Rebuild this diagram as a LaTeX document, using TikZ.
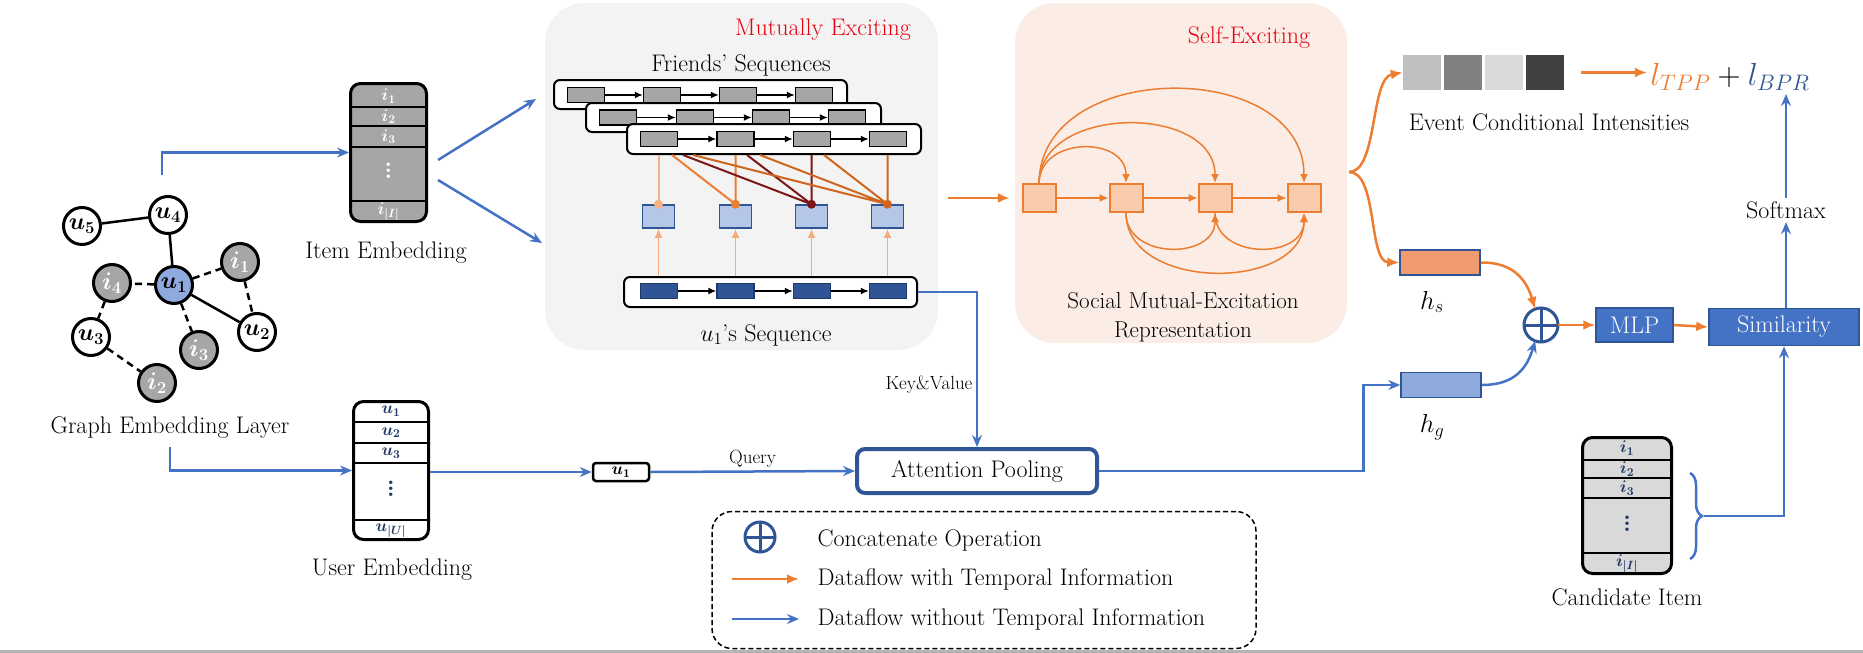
\RequirePackage{fix-cm}
\documentclass[tikz,border=0pt]{standalone}
\usepackage{bm}
\usetikzlibrary{arrows.meta,positioning,decorations.pathreplacing}
\definecolor{flowblue}{HTML}{4472C4}
\definecolor{darkblue}{HTML}{2F5597}
\definecolor{navy}{HTML}{1F3864}
\definecolor{floworange}{HTML}{ED7D31}
\definecolor{lightorange}{HTML}{F4B183}
\definecolor{midorange}{HTML}{D0651E}
\definecolor{darkred}{HTML}{7B1717}
\definecolor{mutgrey}{HTML}{F3F3F3}
\definecolor{selfbg}{HTML}{FBEDE5}
\definecolor{itemgrey}{HTML}{A6A6A6}
\definecolor{candgrey}{HTML}{D9D9D9}
\definecolor{sqblue}{HTML}{B4C7E7}
\definecolor{hgblue}{HTML}{8FAADC}
\definecolor{hsorange}{HTML}{F19C6E}
\definecolor{sqorange}{HTML}{F8CBAD}
\definecolor{excred}{HTML}{E60012}
\definecolor{barcolor}{HTML}{B5B5B5}
\newcommand{\tallvdots}{\vbox{\baselineskip6pt\lineskiplimit0pt\hbox{\textbf{.}}\hbox{\textbf{.}}\hbox{\textbf{.}}}}
\begin{document}
\begin{tikzpicture}[x=1pt,y=-1pt,
every node/.style={font=\fontsize{24}{29}\selectfont},
tinylab/.style={font=\fontsize{19}{23}\selectfont},
celllab/.style={font=\fontsize{17}{20}\selectfont,inner sep=0pt},
bflow/.style={draw=flowblue,line width=2.5pt,-{Stealth[length=12pt,width=10pt,inset=4pt]}},
oflow/.style={draw=floworange,line width=2.5pt,-{Latex[length=12pt,width=10pt]}},
thinarrow/.style={-{Latex[length=8pt,width=7pt]},line width=1.2pt},
uparrow/.style={draw=lightorange!90!floworange,line width=1.8pt,-{Latex[length=9pt,width=8pt]}},
selfarc/.style={draw=floworange,line width=1.5pt,-{Latex[length=9pt,width=8pt]}},
gnode/.style={circle,draw,line width=3pt,minimum size=37pt,inner sep=0pt,fill=white},
inode/.style={gnode,fill=itemgrey,text=white},
embbox/.style={draw,line width=3pt,rounded corners=10pt,inner sep=0pt},
seqbox/.style={draw,fill=white,line width=2pt,rounded corners=6pt,minimum height=29pt,inner sep=0pt},
frect/.style={draw,fill=itemgrey,line width=1.5pt,minimum width=37pt,minimum height=15pt,inner sep=0pt},
urect/.style={frect,fill=darkblue,draw=navy},
attsq/.style={draw=darkblue,fill=sqblue,line width=1.5pt,minimum width=32pt,minimum height=23pt,inner sep=0pt},
dotnode/.style={circle,minimum size=9pt,inner sep=0pt},
selfsq/.style={draw=floworange,fill=sqorange,line width=2pt,minimum width=33pt,minimum height=28pt,inner sep=0pt},
intsq/.style={minimum width=38pt,minimum height=35pt,inner sep=0pt},
hbox/.style={draw=darkblue,line width=1.5pt,minimum width=80pt,minimum height=25pt,inner sep=0pt},
catnode/.style={circle,draw=darkblue,line width=3pt,inner sep=0pt,outer sep=0pt},
bluebox/.style={fill=flowblue,draw=darkblue,line width=1.5pt,text=white,inner sep=0pt}]
\useasboundingbox (0,0) rectangle (1863,653);
\node[fill=mutgrey,rounded corners=40pt,minimum width=393pt,minimum height=347pt,inner sep=0pt] (mutbox) at (741.5,176.5) {};
\node[fill=selfbg,rounded corners=40pt,minimum width=332pt,minimum height=340pt,inner sep=0pt] (selfbox) at (1181,173) {};
\fill[barcolor] (0,650) rectangle (1863,653);

\node[gnode] (u5) at (82,226) {$\bm{u_5}$};
\node[gnode] (u4) at (168,215) {$\bm{u_4}$};
\node[gnode,fill=hgblue] (u1) at (174,285) {$\bm{u_1}$};
\node[inode] (i1) at (240,262) {$\bm{i_1}$};
\node[inode] (i4) at (112,283) {$\bm{i_4}$};
\node[gnode] (u3) at (91,337) {$\bm{u_3}$};
\node[inode] (i3) at (199,350) {$\bm{i_3}$};
\node[gnode] (u2) at (257,332) {$\bm{u_2}$};
\node[inode] (i2) at (157,383) {$\bm{i_2}$};
\draw[line width=2.5pt] (u5)--(u4) (u4)--(u1) (u1)--(u2);
\draw[line width=2.5pt,dash pattern=on 7pt off 5pt] (u1)--(i1) (u1)--(i4) (u1)--(i3) (i1)--(u2) (i4)--(u3) (u3)--(i2);
\node (glab) at (170,428) {Graph Embedding Layer};

\node[embbox,fill=itemgrey,minimum width=76pt,minimum height=138pt] (itememb) at (388.5,152.5) {};
\draw[line width=2.5pt] (itememb.west |- 0,107) -- (itememb.east |- 0,107) (itememb.west |- 0,126) -- (itememb.east |- 0,126) (itememb.west |- 0,147) -- (itememb.east |- 0,147) (itememb.west |- 0,201) -- (itememb.east |- 0,201);
\node[celllab,text=white] (it1) at (388.5,96) {$\bm{i_1}$};
\node[celllab,text=white] (it2) at (388.5,116.5) {$\bm{i_2}$};
\node[celllab,text=white] (it3) at (388.5,136.5) {$\bm{i_3}$};
\node[text=white,inner sep=0pt] (itd) at (388.5,171) {\tallvdots};
\node[celllab,text=white] (itn) at (388.5,212) {$\bm{i_{|I|}}$};
\node (itlab) at (386,253) {Item Embedding};

\node[embbox,fill=white,minimum width=75pt,minimum height=138pt] (useremb) at (391,470.5) {};
\draw[line width=2.5pt] (useremb.west |- 0,422) -- (useremb.east |- 0,422) (useremb.west |- 0,443) -- (useremb.east |- 0,443) (useremb.west |- 0,463) -- (useremb.east |- 0,463) (useremb.west |- 0,520) -- (useremb.east |- 0,520);
\node[celllab,text=navy] (us1) at (391,411) {$\bm{u_1}$};
\node[celllab,text=navy] (us2) at (391,432.5) {$\bm{u_2}$};
\node[celllab,text=navy] (us3) at (391,453) {$\bm{u_3}$};
\node[text=navy,inner sep=0pt] (usd) at (391,489) {\tallvdots};
\node[celllab,text=navy] (usn) at (391,531) {$\bm{u_{|U|}}$};
\node (uslab) at (392,570) {User Embedding};

\coordinate (gtop) at (162,175);
\coordinate (gbot) at (170,447);
\draw[bflow] (gtop) |- (itememb.west);
\draw[bflow] (gbot) |- (useremb.west);
\coordinate (ie1) at (438,160);
\coordinate (ie2) at (438,180);
\coordinate (fs1) at (536,99);
\coordinate (fs2) at (542,243);
\draw[bflow] (ie1) -- (fs1);
\draw[bflow] (ie2) -- (fs2);

\node[text=excred] (mtitle) at (823,30) {Mutually Exciting};
\node (flab) at (741,65) {Friends' Sequences};
\node[seqbox,minimum width=293pt] (f1) at (700.5,94.5) {};
\node[frect] (f11) at (586,95) {};
\node[frect] (f12) at (662,95) {};
\node[frect] (f13) at (738,95) {};
\node[frect] (f14) at (814,95) {};
\draw[thinarrow] (f11)--(f12);
\draw[thinarrow] (f12)--(f13);
\draw[thinarrow] (f13)--(f14);
\node[seqbox,minimum width=295pt] (f2) at (733.5,117.5) {};
\node[frect] (f21) at (618,117.5) {};
\node[frect] (f22) at (695,117.5) {};
\node[frect] (f23) at (771,117.5) {};
\node[frect] (f24) at (847,117.5) {};
\draw[thinarrow] (f21)--(f22);
\draw[thinarrow] (f22)--(f23);
\draw[thinarrow] (f23)--(f24);
\node[seqbox,minimum width=294pt,minimum height=30pt] (f3) at (774,139) {};
\node[frect] (f31) at (659,139) {};
\node[frect] (f32) at (735.5,139) {};
\node[frect] (f33) at (812,139) {};
\node[frect] (f34) at (888,139) {};
\draw[thinarrow] (f31)--(f32);
\draw[thinarrow] (f32)--(f33);
\draw[thinarrow] (f33)--(f34);

\node[attsq] (a1) at (658.5,216.5) {};
\node[attsq] (a2) at (735.5,216.5) {};
\node[attsq] (a3) at (811.5,216.5) {};
\node[attsq] (a4) at (887.5,216.5) {};
\coordinate (d1) at (a1.north);
\coordinate (d2) at (a2.north);
\coordinate (d3) at (a3.north);
\coordinate (d4) at (a4.north);
\draw[lightorange,line width=2pt] (f3.south -| d1) -- (d1);
\draw[floworange,line width=2pt] (f3.south -| 672,0) -- (d2) (f3.south -| d2) -- (d2);
\draw[darkred,line width=2pt] (f3.south -| 683,0) -- (d3) (f3.south -| 747,0) -- (d3) (f3.south -| d3) -- (d3);
\draw[midorange,line width=2pt] (f3.south -| 693,0) -- (d4) (f3.south -| 760,0) -- (d4) (f3.south -| 824,0) -- (d4) (f3.south -| d4) -- (d4);
\node[dotnode,fill=lightorange] (p1) at (d1) {};
\node[dotnode,fill=floworange] (p2) at (d2) {};
\node[dotnode,fill=darkred] (p3) at (d3) {};
\node[dotnode,fill=midorange] (p4) at (d4) {};

\node[seqbox,minimum width=293pt,minimum height=30pt] (useq) at (770.5,292) {};
\node[urect] (s1) at (659,291) {};
\node[urect] (s2) at (735.5,291) {};
\node[urect] (s3) at (812,291) {};
\node[urect] (s4) at (888,291) {};
\draw[thinarrow] (s1)--(s2);
\draw[thinarrow] (s2)--(s3);
\draw[thinarrow] (s3)--(s4);
\draw[uparrow] (useq.north -| a1) -- (a1.south);
\draw[uparrow] (useq.north -| a2) -- (a2.south);
\draw[uparrow] (useq.north -| a3) -- (a3.south);
\draw[uparrow] (useq.north -| a4) -- (a4.south);
\node (useqlab) at (766,335) {$u_1$'s Sequence};

\node[text=excred] (stitle) at (1249,38) {Self-Exciting};
\node[selfsq] (e1) at (1039,198) {};
\node[selfsq] (e2) at (1126,198) {};
\node[selfsq] (e3) at (1215,198) {};
\node[selfsq] (e4) at (1304,198) {};
\draw[selfarc] (e1)--(e2);
\draw[selfarc] (e2)--(e3);
\draw[selfarc] (e3)--(e4);
\draw[selfarc] (e1.north) .. controls (1040,136) and (1126,136) .. (e2.north);
\draw[selfarc] (e1.north) .. controls (1040,104) and (1215,104) .. (e3.north);
\draw[selfarc] (e1.north) .. controls (1040,58) and (1304,58) .. (e4.north);
\draw[selfarc] (e2.south) .. controls (1126,260) and (1215,260) .. (e3.south);
\draw[selfarc] (e3.south) .. controls (1215,260) and (1304,260) .. (e4.south);
\draw[selfarc] (e2.south) .. controls (1126,292) and (1304,292) .. (e4.south);
\node[align=center,font=\fontsize{23}{29}\selectfont] (selflab) at (1183,317) {Social Mutual-Excitation\\Representation};
\draw[oflow] ([xshift=10pt]mutbox.east |- e1) -- ([xshift=-5pt]selfbox.west |- e1);

\draw[bflow] (useq.east) -| node[pos=0.8,left,tinylab] (kv) {Key\&Value} (977,447);
\node[draw=darkblue,line width=4pt,rounded corners=8pt,minimum width=240pt,minimum height=44pt,inner sep=0pt] (attn) at (977,471) {Attention Pooling};
\node[draw,line width=2.5pt,rounded corners=3pt,minimum width=56pt,minimum height=18pt,celllab] (uq) at (621,472) {$\bm{u_1}$};
\draw[bflow] (useremb.east |- uq) -- (uq.west);
\draw[bflow] (uq.east) -- node[above,tinylab] (qlab) {Query} (attn.west);

\node[intsq,fill=black!25] (c1) at (1422,72.5) {};
\node[intsq,fill=black!50] (c2) at (1463,72.5) {};
\node[intsq,fill=black!15] (c3) at (1504,72.5) {};
\node[intsq,fill=black!75] (c4) at (1545,72.5) {};
\node (evlab) at (1549,122) {Event Conditional Intensities};
\node[font=\fontsize{32}{38}\selectfont] (loss) at (1730,77) {$\textcolor{floworange}{l_{TPP}}+\textcolor{darkblue}{l_{BPR}}$};
\draw[oflow] ([xshift=17pt]c4.east) -- (c4.east -| loss.west);

\node[hbox,fill=hsorange] (hs) at (1440,262.5) {};
\node[hbox,fill=hgblue] (hg) at (1441,385) {};
\node[font=\fontsize{26}{30}\selectfont] (hslab) at (1432,302) {$h_s$};
\node[font=\fontsize{26}{30}\selectfont] (hglab) at (1432,427) {$h_g$};
\coordinate (split) at (1349,172);
\draw[oflow] (split) .. controls (1378,172) and (1370,78) .. (c1.west);
\draw[oflow] (split) .. controls (1378,172) and (1368,262) .. (hs.west);
\draw[bflow] (attn.east) -| ([xshift=-37pt]hg.west) -- (hg.west);

\node[catnode,minimum size=34pt] (cat) at (1541,325) {};
\draw[darkblue,line width=3pt] (cat.north) -- (cat.south) (cat.west) -- (cat.east);
\draw[oflow] (hs.east) .. controls (1515,262) and (1527,282) .. (cat.110);
\draw[bflow] (hg.east) .. controls (1515,385) and (1527,368) .. (cat.250);
\node[bluebox,minimum width=77pt,minimum height=34pt] (mlp) at (1634.5,325) {MLP};
\node[bluebox,minimum width=150pt,minimum height=37pt] (sim) at (1784,327) {Similarity};
\draw[oflow] (cat.east) -- (mlp.west);
\draw[oflow] (mlp.east) -- (sim.west);
\node (smax) at (1786,210) {Softmax};
\draw[bflow] (sim.north -| smax) -- (smax.south);
\draw[bflow] (smax.north) -- (loss.south -| smax);

\node[embbox,fill=candgrey,minimum width=89pt,minimum height=136pt] (cand) at (1627,505.5) {};
\draw[line width=2.5pt] (cand.west |- 0,460) -- (cand.east |- 0,460) (cand.west |- 0,478) -- (cand.east |- 0,478) (cand.west |- 0,498) -- (cand.east |- 0,498) (cand.west |- 0,553) -- (cand.east |- 0,553);
\node[celllab,text=navy] (ca1) at (1627,448) {$\bm{i_1}$};
\node[celllab,text=navy] (ca2) at (1627,469) {$\bm{i_2}$};
\node[celllab,text=navy] (ca3) at (1627,488) {$\bm{i_3}$};
\node[text=navy,inner sep=0pt] (cad) at (1627,524) {\tallvdots};
\node[celllab,text=navy] (can) at (1627,564) {$\bm{i_{|I|}}$};
\node (calab) at (1627,597) {Candidate Item};
\coordinate (bt) at (1690,473);
\coordinate (bb) at (1690,559);
\coordinate (btip) at (1704,516);
\draw[flowblue,line width=2.5pt,decorate,decoration={brace,amplitude=12pt}] (bt) -- (bb);
\draw[bflow] (btip) -| (sim.south);

\node[draw,line width=1.5pt,dash pattern=on 5pt off 3pt,rounded corners=20pt,minimum width=544pt,minimum height=137pt,inner sep=0pt] (legend) at (984,580) {};
\node[catnode,minimum size=30pt] (lcat) at (760,537) {};
\draw[darkblue,line width=3pt] (lcat.north) -- (lcat.south) (lcat.west) -- (lcat.east);
\node[anchor=west] (l1) at (814,540) {Concatenate Operation};
\node[anchor=west] (l2) at (814,579) {Dataflow with Temporal Information};
\node[anchor=west] (l3) at (814,619) {Dataflow without Temporal Information};
\draw[oflow] ([xshift=-82pt]l2.west) -- ([xshift=-15pt]l2.west);
\draw[bflow] ([xshift=-82pt]l3.west) -- ([xshift=-15pt]l3.west);
\end{tikzpicture}
\end{document}
